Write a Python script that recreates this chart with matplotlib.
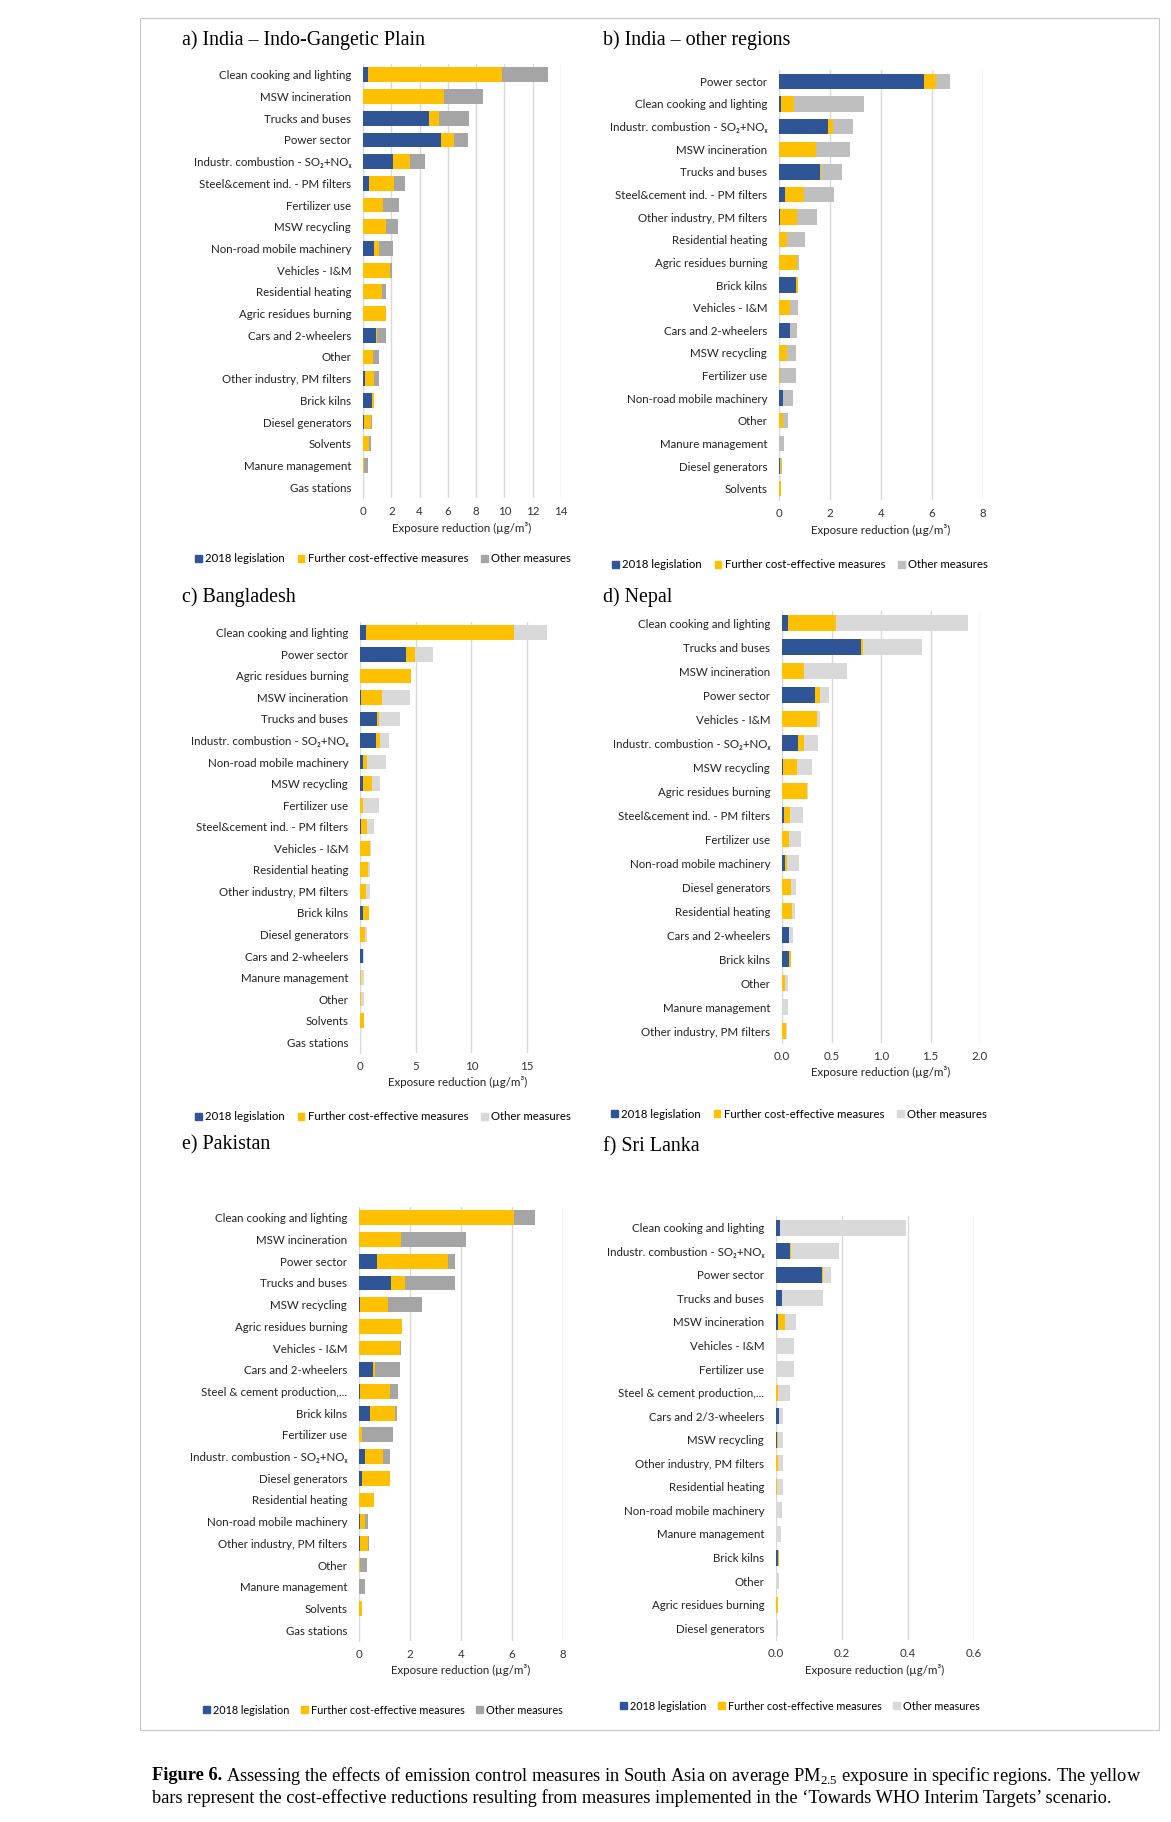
import numpy as np
import matplotlib
matplotlib.use("Agg")
import matplotlib.pyplot as plt
from matplotlib.patches import Patch, Rectangle

plt.rcParams['font.family'] = ['Lato', 'DejaVu Sans']
plt.rcParams['mathtext.fontset'] = 'custom'
plt.rcParams['mathtext.rm'] = 'Liberation Serif'

BLUE = '#2F5597'
YELLOW = '#FFC000'

W, H = 1171, 1822

# ---- data (µg/m3) ----
cats_a = ['Clean cooking and lighting', 'MSW incineration', 'Trucks and buses', 'Power sector',
          'Industr. combustion - SO₂+NOₓ', 'Steel&cement ind. - PM filters', 'Fertilizer use',
          'MSW recycling', 'Non-road mobile machinery', 'Vehicles - I&M', 'Residential heating',
          'Agric residues burning', 'Cars and 2-wheelers', 'Other', 'Other industry, PM filters',
          'Brick kilns', 'Diesel generators', 'Solvents', 'Manure management', 'Gas stations']
leg_a = [0.35, 0, 4.7, 5.5, 2.1, 0.42, 0, 0, 0.75, 0, 0, 0, 0.9, 0, 0.15, 0.65, 0.1, 0, 0, 0]
fur_a = [9.45, 5.7, 0.65, 0.9, 1.2, 1.78, 1.4, 1.6, 0.4, 1.9, 1.35, 1.6, 0.1, 0.7, 0.6, 0.15, 0.5, 0.45, 0.05, 0.02]
oth_a = [3.3, 2.8, 2.15, 1.05, 1.1, 0.8, 1.15, 0.9, 1.0, 0.15, 0.3, 0.0, 0.6, 0.45, 0.35, 0.0, 0.05, 0.1, 0.3, 0]

cats_b = ['Power sector', 'Clean cooking and lighting', 'Industr. combustion - SO₂+NOₓ', 'MSW incineration',
          'Trucks and buses', 'Steel&cement ind. - PM filters', 'Other industry, PM filters',
          'Residential heating', 'Agric residues burning', 'Brick kilns', 'Vehicles - I&M',
          'Cars and 2-wheelers', 'MSW recycling', 'Fertilizer use', 'Non-road mobile machinery',
          'Other', 'Manure management', 'Diesel generators', 'Solvents']
leg_b = [5.7, 0.07, 1.93, 0, 1.6, 0.22, 0.03, 0, 0, 0.67, 0, 0.42, 0, 0, 0.15, 0, 0, 0.02, 0]
fur_b = [0.45, 0.51, 0.17, 1.45, 0.05, 0.77, 0.68, 0.32, 0.71, 0.09, 0.42, 0.03, 0.32, 0.05, 0.02, 0.16, 0, 0.04, 0.08]
oth_b = [0.55, 2.75, 0.82, 1.35, 0.82, 1.16, 0.79, 0.68, 0.09, 0, 0.33, 0.25, 0.36, 0.61, 0.37, 0.18, 0.18, 0.06, 0]

cats_c = ['Clean cooking and lighting', 'Power sector', 'Agric residues burning', 'MSW incineration',
          'Trucks and buses', 'Industr. combustion - SO₂+NOₓ', 'Non-road mobile machinery',
          'MSW recycling', 'Fertilizer use', 'Steel&cement ind. - PM filters', 'Vehicles - I&M',
          'Residential heating', 'Other industry, PM filters', 'Brick kilns', 'Diesel generators',
          'Cars and 2-wheelers', 'Manure management', 'Other', 'Solvents', 'Gas stations']
leg_c = [0.5, 4.13, 0, 0.1, 1.5, 1.4, 0.24, 0.24, 0, 0.1, 0, 0, 0, 0.27, 0, 0.25, 0, 0, 0, 0]
fur_c = [13.35, 0.84, 4.6, 1.9, 0.18, 0.37, 0.42, 0.86, 0.24, 0.56, 0.93, 0.75, 0.57, 0.51, 0.48, 0.03, 0.05, 0.1, 0.35, 0]
oth_c = [2.95, 1.59, 0, 2.5, 1.94, 0.8, 1.71, 0.67, 1.44, 0.57, 0.09, 0.15, 0.33, 0, 0.18, 0.1, 0.35, 0.3, 0, 0]

cats_d = ['Clean cooking and lighting', 'Trucks and buses', 'MSW incineration', 'Power sector',
          'Vehicles - I&M', 'Industr. combustion - SO₂+NOₓ', 'MSW recycling', 'Agric residues burning',
          'Steel&cement ind. - PM filters', 'Fertilizer use', 'Non-road mobile machinery',
          'Diesel generators', 'Residential heating', 'Cars and 2-wheelers', 'Brick kilns', 'Other',
          'Manure management', 'Other industry, PM filters']
leg_d = [0.057, 0.8, 0, 0.33, 0, 0.157, 0.013, 0, 0.02, 0, 0.033, 0, 0, 0.07, 0.07, 0, 0, 0]
fur_d = [0.493, 0.02, 0.22, 0.05, 0.35, 0.063, 0.14, 0.257, 0.063, 0.073, 0.02, 0.093, 0.103, 0.005, 0.02, 0.03, 0, 0.04]
oth_d = [1.33, 0.59, 0.44, 0.09, 0.03, 0.14, 0.15, 0.006, 0.127, 0.114, 0.12, 0.047, 0.027, 0.04, 0, 0.03, 0.06, 0.01]

cats_e = ['Clean cooking and lighting', 'MSW incineration', 'Power sector', 'Trucks and buses',
          'MSW recycling', 'Agric residues burning', 'Vehicles - I&M', 'Cars and 2-wheelers',
          'Steel & cement production,...', 'Brick kilns', 'Fertilizer use',
          'Industr. combustion - SO₂+NOₓ', 'Diesel generators', 'Residential heating',
          'Non-road mobile machinery', 'Other industry, PM filters', 'Other', 'Manure management',
          'Solvents', 'Gas stations']
leg_e = [0, 0, 0.71, 1.27, 0.05, 0, 0, 0.55, 0.04, 0.44, 0, 0.25, 0.1, 0, 0.05, 0.05, 0, 0, 0, 0]
fur_e = [6.07, 1.66, 2.77, 0.53, 1.07, 1.69, 1.6, 0.06, 1.19, 0.97, 0.1, 0.7, 1.1, 0.6, 0.2, 0.3, 0.05, 0, 0.12, 0]
oth_e = [0.83, 2.54, 0.28, 1.95, 1.36, 0, 0.03, 1.0, 0.31, 0.09, 1.22, 0.25, 0, 0, 0.1, 0.03, 0.25, 0.25, 0, 0]

cats_f = ['Clean cooking and lighting', 'Industr. combustion - SO₂+NOₓ', 'Power sector', 'Trucks and buses',
          'MSW incineration', 'Vehicles - I&M', 'Fertilizer use', 'Steel & cement production,...',
          'Cars and 2/3-wheelers', 'MSW recycling', 'Other industry, PM filters', 'Residential heating',
          'Non-road mobile machinery', 'Manure management', 'Brick kilns', 'Other',
          'Agric residues burning', 'Diesel generators']
leg_f = [0.012, 0.042, 0.139, 0.018, 0.005, 0, 0, 0, 0.01, 0.003, 0, 0, 0, 0, 0.005, 0, 0, 0]
fur_f = [0.001, 0.002, 0.002, 0, 0.022, 0.001, 0, 0.007, 0, 0.004, 0.005, 0.003, 0, 0, 0.005, 0, 0.006, 0]
oth_f = [0.382, 0.146, 0.026, 0.123, 0.033, 0.054, 0.055, 0.035, 0.011, 0.013, 0.015, 0.017, 0.018, 0.015, 0, 0.008, 0, 0.006]

series_names = ['2018 legislation', 'Further cost-effective measures', 'Other measures']

fig = plt.figure(figsize=(W / 100, H / 100), dpi=100)

FS = 8.3


def px_axes(x0, x1, y0, y1):
    # pixel box (top-left origin) -> figure axes
    return fig.add_axes([x0 / W, 1 - y1 / H, (x1 - x0) / W, (y1 - y0) / H])


def panel(box, title, title_xy, cats, leg, fur, oth, grey, xmax, ticks, ticklabels,
          legend_xy, legend_fs=8.2):
    ax = px_axes(*box)
    y = np.arange(len(cats))
    leg = np.array(leg)
    fur = np.array(fur)
    oth = np.array(oth)
    h = 0.68
    ax.barh(y, leg, height=h, color=BLUE, zorder=3)
    ax.barh(y, fur, left=leg, height=h, color=YELLOW, zorder=3)
    ax.barh(y, oth, left=leg + fur, height=h, color=grey, zorder=3)
    ax.set_ylim(len(cats) - 0.5, -0.5)
    ax.set_xlim(0, xmax)
    ax.set_yticks(y)
    ax.set_yticklabels(cats, fontsize=FS, color='#222222')
    ax.set_xticks(ticks)
    ax.set_xticklabels(ticklabels, fontsize=FS, color='#333333')
    ax.tick_params(length=0)
    ax.tick_params(axis='y', pad=8.5)
    ax.tick_params(axis='x', pad=6)
    ax.xaxis.grid(True, color='#D9D9D9', lw=1, zorder=0)
    ax.set_axisbelow(True)
    for s in ['top', 'right', 'bottom']:
        ax.spines[s].set_visible(False)
    ax.spines['left'].set_color('#D9D9D9')
    ax.set_xlabel('Exposure reduction (µg/m³)', fontsize=FS, color='#222222', labelpad=3)
    fig.text(title_xy[0] / W, 1 - title_xy[1] / H, title, family='Liberation Serif',
             fontsize=14.4, va='center', ha='left')
    handles = [Patch(color=c) for c in (BLUE, YELLOW, grey)]
    fig.legend(handles, series_names, loc='center', ncol=3, frameon=False,
               bbox_to_anchor=(legend_xy[0] / W, 1 - legend_xy[1] / H),
               fontsize=legend_fs, handlelength=0.6, handleheight=0.6, handletextpad=0.3,
               columnspacing=1.1, borderpad=0)
    return ax


panel((363, 561, 64, 498), 'a) India – Indo-Gangetic Plain', (182, 40), cats_a, leg_a, fur_a, oth_a,
      '#A5A5A5', 14, range(0, 15, 2), [str(v) for v in range(0, 15, 2)], (383, 559))
panel((779, 983, 70, 500), 'b) India – other regions', (603, 40), cats_b, leg_b, fur_b, oth_b,
      '#BFBFBF', 8, range(0, 9, 2), [str(v) for v in range(0, 9, 2)], (800, 565))
panel((360, 555, 622, 1053), 'c) Bangladesh', (182, 597), cats_c, leg_c, fur_c, oth_c,
      '#D9D9D9', 17.5, [0, 5, 10, 15], ['0', '5', '10', '15'], (383, 1117))
panel((782, 980, 611, 1043), 'd) Nepal', (603, 597), cats_d, leg_d, fur_d, oth_d,
      '#D9D9D9', 2.0, [0, 0.5, 1.0, 1.5, 2.0], ['0.0', '0.5', '1.0', '1.5', '2.0'], (799, 1114))
panel((359, 563, 1207, 1641), 'e) Pakistan', (182, 1145), cats_e, leg_e, fur_e, oth_e,
      '#A5A5A5', 8, range(0, 9, 2), [str(v) for v in range(0, 9, 2)], (383, 1710), legend_fs=7.8)
panel((776, 974, 1216, 1640), 'f) Sri Lanka', (603, 1147), cats_f, leg_f, fur_f, oth_f,
      '#D9D9D9', 0.6, [0, 0.2, 0.4, 0.6], ['0.0', '0.2', '0.4', '0.6'], (800, 1706), legend_fs=7.8)

# light frame around the chart block
fig.patches.append(Rectangle((140 / W, 1 - 1730 / H), (1159 - 140) / W, (1730 - 18) / H,
                             transform=fig.transFigure, fill=False, edgecolor='#C8C8C8', lw=0.8))

# caption, sized so the first line spans the page width
x0_cap, x1_cap = 152, 1140
cap_fs = 12
t1 = fig.text(x0_cap / W, 1 - 1776 / H, 'Figure 6.', family='Liberation Serif', fontweight='bold',
              fontsize=cap_fs, va='center', ha='left')
t2 = fig.text(0, 1 - 1776 / H,
              'Assessing the effects of emission control measures in South Asia on average PM$_{2.5}$ '
              'exposure in specific regions. The yellow',
              family='Liberation Serif', fontsize=cap_fs, va='center', ha='left')
t3 = fig.text(x0_cap / W, 1 - 1798 / H,
              'bars represent the cost-effective reductions resulting from measures implemented in the '
              '‘Towards WHO Interim Targets’ scenario.',
              family='Liberation Serif', fontsize=cap_fs, va='center', ha='left')
for _ in range(2):
    fig.canvas.draw()
    bb = t1.get_window_extent()
    t2.set_x((bb.x1 + 0.3 * cap_fs) / W)
    fig.canvas.draw()
    r = t2.get_window_extent().x1
    cap_fs = cap_fs * (x1_cap - x0_cap) / (r - x0_cap)
    for t in (t1, t2, t3):
        t.set_fontsize(cap_fs)
fig.canvas.draw()
bb = t1.get_window_extent()
t2.set_x((bb.x1 + 0.3 * cap_fs) / W)

fig.savefig('out.png', dpi=100)
